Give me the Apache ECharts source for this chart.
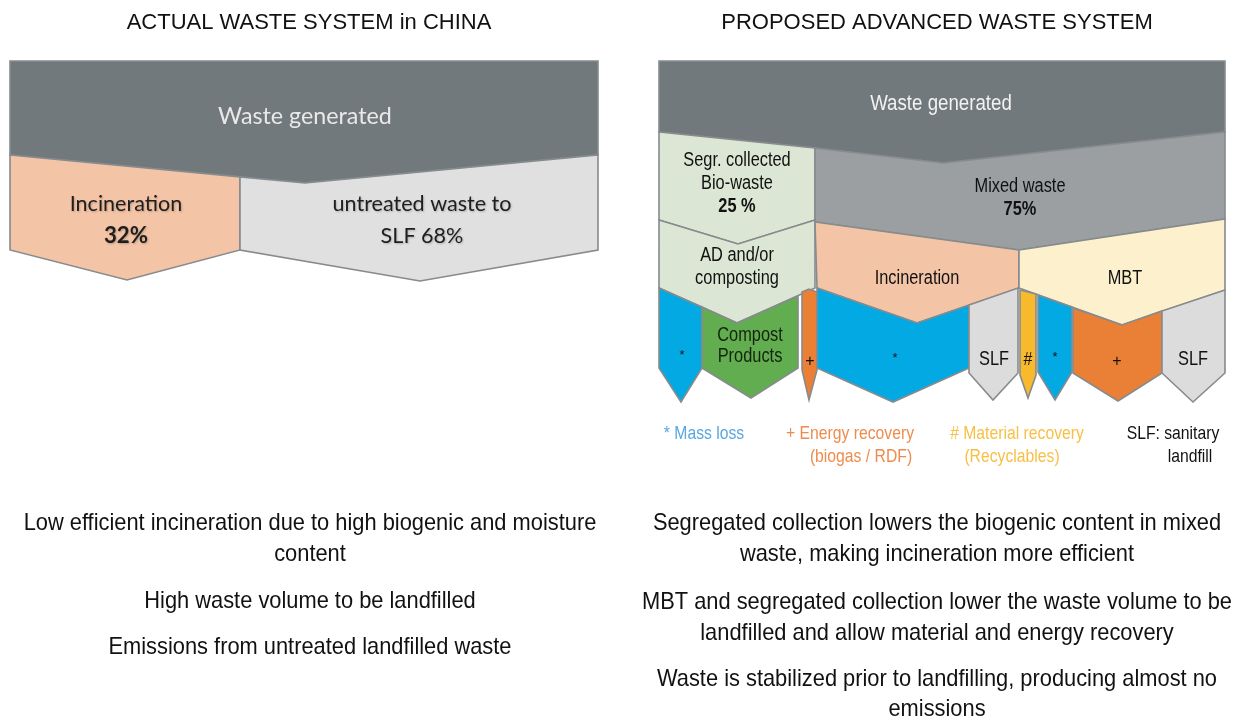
<!DOCTYPE html>
<html>
<head>
<meta charset="utf-8">
<script src="https://cdn.jsdelivr.net/npm/echarts@6/dist/echarts.min.js"></script>
<style>html,body{margin:0;padding:0;background:#fff}#main{width:1237px;height:719px}</style>
</head>
<body>
<div id="main"></div>
<script>
// ---------------- DATA ----------------
const panelTitles = ['ACTUAL WASTE SYSTEM in CHINA', 'PROPOSED ADVANCED WASTE SYSTEM'];
const actualStages = ['Waste generated', 'Incineration', 'untreated waste to', 'SLF'];
const actualShares = [100, 32, 68];
const proposedStages = ['Waste generated', 'Segr. collected', 'Bio-waste', 'Mixed waste', 'AD and/or', 'composting', 'Incineration', 'MBT'];
const proposedShares = [100, 25, 75];
const outputMarks = ['*', 'Compost', 'Products', '+', '*', 'SLF', '#', '*', '+', 'SLF'];
const legendLines = ['* Mass loss', '+ Energy recovery', '(biogas / RDF)', '# Material recovery', '(Recyclables)', 'SLF: sanitary', 'landfill'];
const actualNotes = ['Low efficient incineration due to high biogenic and moisture', 'content', 'High waste volume to be landfilled', 'Emissions from untreated landfilled waste'];
const proposedNotes = ['Segregated collection lowers the biogenic content in mixed', 'waste, making incineration more efficient', 'MBT and segregated collection lower the waste volume to be', 'landfilled and allow material and energy recovery', 'Waste is stabilized prior to landfilling, producing almost no', 'emissions'];

// ---------------- LAYOUT (diagram units) ----------------
const C = {
  dark: '#72797c', peach: '#f4c4a6', lgray: '#e0e0e0', lgreen: '#dbe7d4', mgray: '#9b9fa2',
  cream: '#fdf0cc', blue: '#03a9e2', green: '#62ad4f', orange: '#ea7f36', yellow: '#f8ba2c', slf: '#dcdcdc'
};
const shapes = [
  // left panel
  {fill: C.dark,  pts: [[10,61],[598,61],[598,155],[305,183],[10,155]]},
  {fill: C.peach, pts: [[10,155],[240,177],[240,250],[127,280],[10,250]]},
  {fill: C.lgray, pts: [[240,177],[305,183],[598,155],[598,250],[420,281],[240,250]]},
  // right panel
  {fill: C.dark,  pts: [[659,61],[1225,61],[1225,132],[943,163],[815,148],[659,132]]},
  {fill: C.lgreen,pts: [[659,132],[815,148],[815,220],[738,244],[659,220]]},
  {fill: C.mgray, pts: [[815,148],[943,163],[1225,132],[1225,219],[1019,250],[815,222]]},
  {fill: C.lgreen,pts: [[659,220],[738,244],[815,220],[815,288],[737,323],[659,288]]},
  {fill: C.peach, pts: [[815,222],[1019,250],[1019,288],[917,323],[817,288]]},
  {fill: C.cream, pts: [[1019,250],[1225,219],[1225,290],[1122,325],[1019,288]]},
  {fill: C.blue,  pts: [[659,288],[702,307],[702,368],[681,402],[659,368]]},
  {fill: C.green, pts: [[702,307],[737,323],[798,296],[798,368],[751,398],[702,368]]},
  {fill: C.orange,pts: [[802,292],[809,289],[817,292],[817,370],[809,400],[802,370]]},
  {fill: C.blue,  pts: [[817,288],[917,323],[969,305],[969,368],[893,402],[817,368]]},
  {fill: C.slf,   pts: [[969,305],[1018,288],[1018,373],[993,400],[969,373]]},
  {fill: C.yellow,pts: [[1020,290],[1036,294],[1036,375],[1028,398],[1020,375]]},
  {fill: C.blue,  pts: [[1038,295],[1072,307],[1072,372],[1055,400],[1038,372]]},
  {fill: C.orange,pts: [[1073,308],[1122,325],[1162,311],[1162,373],[1118,401],[1073,373]]},
  {fill: C.slf,   pts: [[1162,311],[1225,290],[1225,373],[1193,402],[1162,373]]}
];

const CAL = 'Lato, "Open Sans", sans-serif';
const ARI = '"Liberation Sans", Arial, sans-serif';
const shadow = {textShadowColor: 'rgba(0,0,0,0.22)', textShadowBlur: 2, textShadowOffsetX: 1, textShadowOffsetY: 1};
const texts = [
  {t: panelTitles[0], p: [309,23], fs: 22, f: ARI, c: '#111'},
  {t: panelTitles[1], p: [937,23], fs: 22, f: ARI, c: '#111'},
  // left diagram
  {t: actualStages[0], p: [305,116], fs: 24, sx: 0.97, f: CAL, c: '#e9e9e9'},
  {t: actualStages[1], p: [126,204], fs: 22, sx: 0.98, f: CAL, c: '#1e1e1e', sh: 1},
  {t: actualShares[1] + '%', p: [126,236], fs: 23, sx: 0.97, f: CAL, c: '#1e1e1e', w: 'bold', sh: 1},
  {t: actualStages[2], p: [422,204], fs: 22, sx: 0.98, f: CAL, c: '#1e1e1e', sh: 1},
  {t: actualStages[3] + ' ' + actualShares[2] + '%', p: [422,236], fs: 22, sx: 0.98, f: CAL, c: '#1e1e1e', sh: 1},
  // right diagram
  {t: proposedStages[0], p: [941,104], fs: 22, sx: 0.85, f: ARI, c: '#f2f2f2'},
  {t: proposedStages[1], p: [737,161], fs: 19.5, sx: 0.84, f: ARI, c: '#111'},
  {t: proposedStages[2], p: [737,184], fs: 19.5, sx: 0.84, f: ARI, c: '#111'},
  {t: proposedShares[1] + ' %', p: [737,207], fs: 19.5, sx: 0.84, f: ARI, c: '#111', w: 'bold'},
  {t: proposedStages[3], p: [1020,187], fs: 19.5, sx: 0.84, f: ARI, c: '#111'},
  {t: proposedShares[2] + '%', p: [1020,210], fs: 19.5, sx: 0.84, f: ARI, c: '#111', w: 'bold'},
  {t: proposedStages[4], p: [737,256], fs: 19.5, sx: 0.84, f: ARI, c: '#111'},
  {t: proposedStages[5], p: [737,279], fs: 19.5, sx: 0.84, f: ARI, c: '#111'},
  {t: proposedStages[6], p: [917,279], fs: 19.5, sx: 0.84, f: ARI, c: '#111'},
  {t: proposedStages[7], p: [1125,279], fs: 19.5, sx: 0.84, f: ARI, c: '#111'},
  {t: outputMarks[0], p: [682,355], fs: 13, f: ARI, c: '#111'},
  {t: outputMarks[1], p: [750,336], fs: 19.5, sx: 0.84, f: ARI, c: '#14240f'},
  {t: outputMarks[2], p: [750,357], fs: 19.5, sx: 0.84, f: ARI, c: '#14240f'},
  {t: outputMarks[3], p: [810,362], fs: 16, f: ARI, c: '#111'},
  {t: outputMarks[4], p: [895,358], fs: 13, f: ARI, c: '#111'},
  {t: outputMarks[5], p: [994,360], fs: 19.5, sx: 0.84, f: ARI, c: '#111'},
  {t: outputMarks[6], p: [1028,360], fs: 19, sx: 0.84, f: ARI, c: '#111'},
  {t: outputMarks[7], p: [1055,357], fs: 13, f: ARI, c: '#111'},
  {t: outputMarks[8], p: [1117,362], fs: 16, f: ARI, c: '#111'},
  {t: outputMarks[9], p: [1193,360], fs: 19.5, sx: 0.84, f: ARI, c: '#111'},
  // legend
  {t: legendLines[0], p: [704,434], fs: 18.5, sx: 0.85, f: ARI, c: '#5aa6de'},
  {t: legendLines[1], p: [850,434], fs: 18.5, sx: 0.85, f: ARI, c: '#ee8c4e'},
  {t: legendLines[2], p: [861,457], fs: 18.5, sx: 0.85, f: ARI, c: '#ee8c4e'},
  {t: legendLines[3], p: [1017,434], fs: 18.5, sx: 0.85, f: ARI, c: '#f8bf45'},
  {t: legendLines[4], p: [1012,457], fs: 18.5, sx: 0.85, f: ARI, c: '#f8bf45'},
  {t: legendLines[5], p: [1173,434], fs: 18.5, sx: 0.85, f: ARI, c: '#111'},
  {t: legendLines[6], p: [1190,457], fs: 18.5, sx: 0.85, f: ARI, c: '#111'}
];
const leftNoteY = [523, 554, 601, 647];
const rightNoteY = [523, 554, 602, 633, 679, 709];
actualNotes.forEach((s, i) => texts.push({t: s, p: [310, leftNoteY[i]], fs: 24, sx: 0.91, f: ARI, c: '#111'}));
proposedNotes.forEach((s, i) => texts.push({t: s, p: [937, rightNoteY[i]], fs: 24, sx: 0.91, f: ARI, c: '#111'}));

// ---------------- CHART ----------------
const chart = echarts.init(document.getElementById('main'), null, {renderer: 'canvas'});
chart.setOption({
  animation: false,
  backgroundColor: '#ffffff',
  grid: {left: 0, right: 0, top: 0, bottom: 0},
  xAxis: {type: 'value', min: 0, max: 1237, show: false},
  yAxis: {type: 'value', min: 0, max: 719, inverse: true, show: false},
  series: [
    {
      type: 'custom', coordinateSystem: 'cartesian2d', silent: true,
      data: shapes.map((s, i) => [s.pts[0][0], s.pts[0][1], i]),
      renderItem: function (params, api) {
        const s = shapes[params.dataIndex];
        return {
          type: 'polygon',
          shape: {points: s.pts.map(p => api.coord(p))},
          style: {fill: s.fill, stroke: '#868b8e', lineWidth: 1.6, lineJoin: 'miter'}
        };
      }
    },
    {
      type: 'custom', coordinateSystem: 'cartesian2d', silent: true,
      data: texts.map((t, i) => [t.p[0], t.p[1], i]),
      renderItem: function (params, api) {
        const t = texts[params.dataIndex];
        const pt = api.coord(t.p);
        const style = {
          text: t.t, fontSize: t.fs, fontFamily: t.f, fontWeight: t.w || 'normal',
          fill: t.c, align: 'center', verticalAlign: 'middle'
        };
        if (t.sh) Object.assign(style, shadow);
        return {type: 'text', x: pt[0], y: pt[1], scaleX: t.sx || 1, style: style};
      }
    }
  ]
});
</script>
</body>
</html>
